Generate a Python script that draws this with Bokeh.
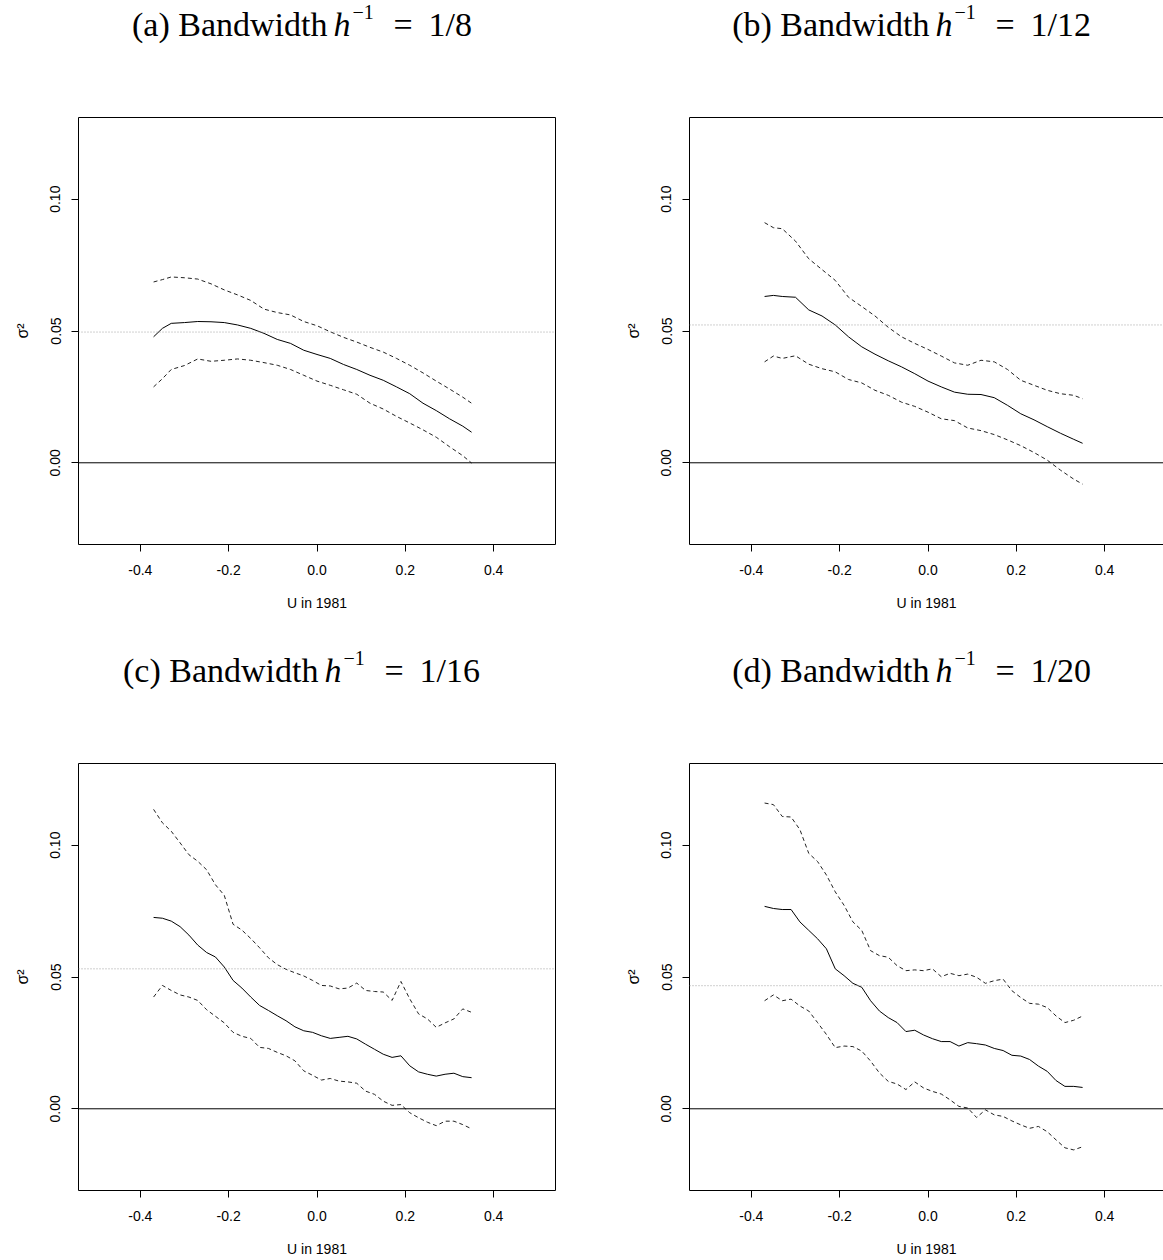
from bokeh.plotting import figure
from bokeh.models import Range1d, Span, LinearAxis, FixedTicker, NumeralTickFormatter
from bokeh.core.properties import value
from bokeh.layouts import column, row
from bokeh.embed import file_html
from bokeh.resources import INLINE

# ---------------- data ----------------
x_ab = [-0.37, -0.35, -0.33, -0.30, -0.27, -0.24, -0.21, -0.18, -0.15, -0.12, -0.09, -0.06, -0.03,
        0.00, 0.03, 0.06, 0.09, 0.12, 0.15, 0.18, 0.21, 0.24, 0.27, 0.30, 0.33, 0.35]

a_mid = [0.0478, 0.0510, 0.0529, 0.0532, 0.0536, 0.0535, 0.0532, 0.0523, 0.0510, 0.0491, 0.0468, 0.0453, 0.0427,
         0.0411, 0.0396, 0.0373, 0.0354, 0.0332, 0.0313, 0.0288, 0.0262, 0.0226, 0.0198, 0.0167, 0.0139, 0.0116]
a_up = [0.0686, 0.0695, 0.0705, 0.0702, 0.0697, 0.0679, 0.0656, 0.0637, 0.0616, 0.0583, 0.0570, 0.0561, 0.0536,
        0.0520, 0.0497, 0.0476, 0.0458, 0.0438, 0.0420, 0.0396, 0.0370, 0.0341, 0.0310, 0.0280, 0.0249, 0.0226]
a_lo = [0.0288, 0.0319, 0.0354, 0.0369, 0.0394, 0.0385, 0.0389, 0.0394, 0.0389, 0.0380, 0.0370, 0.0354, 0.0332,
        0.0310, 0.0294, 0.0277, 0.0260, 0.0226, 0.0204, 0.0176, 0.0151, 0.0125, 0.0097, 0.0061, 0.0027, -0.0001]

b_mid = [0.0631, 0.0635, 0.0631, 0.0628, 0.0580, 0.0557, 0.0523, 0.0478, 0.0440, 0.0412, 0.0387, 0.0364, 0.0338,
         0.0310, 0.0288, 0.0268, 0.0260, 0.0259, 0.0247, 0.0218, 0.0186, 0.0163, 0.0137, 0.0112, 0.0089, 0.0074]
b_up = [0.0911, 0.0892, 0.0888, 0.0841, 0.0774, 0.0733, 0.0692, 0.0628, 0.0593, 0.0557, 0.0514, 0.0478, 0.0453,
        0.0430, 0.0405, 0.0379, 0.0370, 0.0389, 0.0383, 0.0354, 0.0313, 0.0294, 0.0275, 0.0262, 0.0256, 0.0243]
b_lo = [0.0383, 0.0405, 0.0396, 0.0406, 0.0374, 0.0357, 0.0345, 0.0316, 0.0303, 0.0275, 0.0256, 0.0230, 0.0214,
        0.0192, 0.0167, 0.0160, 0.0132, 0.0122, 0.0107, 0.0087, 0.0065, 0.0039, 0.0010, -0.0028, -0.0062, -0.0081]

x_cd = [-0.37, -0.35, -0.33, -0.31, -0.29, -0.27, -0.25, -0.23, -0.21, -0.19, -0.17, -0.15, -0.13,
        -0.11, -0.09, -0.07, -0.05, -0.03, -0.01, 0.01, 0.03, 0.05, 0.07, 0.09, 0.11, 0.13,
        0.15, 0.17, 0.19, 0.21, 0.23, 0.25, 0.27, 0.29, 0.31, 0.33, 0.35]

c_up = [0.1136, 0.1085, 0.1053, 0.1009, 0.0964, 0.0939, 0.0907, 0.0850, 0.0810, 0.0700, 0.0678, 0.0646, 0.0611,
        0.0573, 0.0547, 0.0529, 0.0516, 0.0504, 0.0487, 0.0468, 0.0466, 0.0455, 0.0458, 0.0477, 0.0449, 0.0445,
        0.0443, 0.0411, 0.0483, 0.0417, 0.0360, 0.0341, 0.0309, 0.0326, 0.0341, 0.0379, 0.0366]
c_mid = [0.0726, 0.0723, 0.0712, 0.0691, 0.0659, 0.0621, 0.0593, 0.0576, 0.0538, 0.0487, 0.0458, 0.0424, 0.0392,
         0.0373, 0.0353, 0.0334, 0.0311, 0.0296, 0.0290, 0.0277, 0.0267, 0.0271, 0.0275, 0.0265, 0.0245, 0.0226,
         0.0207, 0.0195, 0.0201, 0.0163, 0.0140, 0.0131, 0.0124, 0.0131, 0.0135, 0.0122, 0.0118]
c_lo = [0.0424, 0.0468, 0.0449, 0.0432, 0.0424, 0.0411, 0.0376, 0.0351, 0.0326, 0.0290, 0.0275, 0.0267, 0.0233,
        0.0229, 0.0214, 0.0201, 0.0182, 0.0144, 0.0127, 0.0109, 0.0115, 0.0105, 0.0102, 0.0097, 0.0067, 0.0055,
        0.0029, 0.0013, 0.0016, -0.0015, -0.0034, -0.0051, -0.0064, -0.0047, -0.0047, -0.0060, -0.0076]

d_up = [0.1160, 0.1154, 0.1109, 0.1107, 0.1059, 0.0969, 0.0938, 0.0887, 0.0823, 0.0772, 0.0709, 0.0677, 0.0600,
        0.0581, 0.0575, 0.0543, 0.0524, 0.0527, 0.0524, 0.0531, 0.0501, 0.0514, 0.0505, 0.0511, 0.0499, 0.0476,
        0.0486, 0.0492, 0.0448, 0.0422, 0.0400, 0.0397, 0.0384, 0.0352, 0.0327, 0.0336, 0.0352]
d_mid = [0.0768, 0.0760, 0.0756, 0.0756, 0.0709, 0.0677, 0.0645, 0.0607, 0.0531, 0.0505, 0.0476, 0.0461, 0.0410,
         0.0371, 0.0346, 0.0327, 0.0293, 0.0298, 0.0280, 0.0266, 0.0255, 0.0255, 0.0238, 0.0251, 0.0247, 0.0242,
         0.0229, 0.0221, 0.0203, 0.0200, 0.0187, 0.0162, 0.0142, 0.0107, 0.0085, 0.0085, 0.0081]
d_lo = [0.0410, 0.0432, 0.0410, 0.0416, 0.0390, 0.0371, 0.0327, 0.0282, 0.0232, 0.0238, 0.0236, 0.0219, 0.0181,
        0.0136, 0.0104, 0.0094, 0.0073, 0.0102, 0.0079, 0.0066, 0.0056, 0.0034, 0.0009, 0.0003, -0.0033, -0.0004,
        -0.0023, -0.0029, -0.0046, -0.0061, -0.0074, -0.0067, -0.0087, -0.0118, -0.0148, -0.0156, -0.0144]

ref_levels = [0.0496, 0.0523, 0.0531, 0.0467]
letters = ["a", "b", "c", "d"]
bandwidths = ["1/8", "1/12", "1/16", "1/20"]
x_ticks = [-0.4, -0.2, 0.0, 0.2, 0.4]
y_ticks = [0.0, 0.05, 0.10]
x_label = "U in 1981"
y_label = "σ²"

SANS = "Liberation Sans"
SERIF = "Liberation Serif"
TITLE_H = 60
FRAME_H = 427
FRAME_W = 477
X0, X1 = -0.54, 0.54
Y0, Y1 = -0.031, 0.131


def title_fig(letter, bw, width):
    t = figure(width=width, height=TITLE_H, x_range=Range1d(0, width), y_range=Range1d(TITLE_H, 0),
               output_backend="svg", toolbar_location=None,
               x_axis_location=None, y_axis_location=None, min_border=0)
    t.grid.visible = False
    t.outline_line_color = None
    t.background_fill_color = "white"
    t.border_fill_color = "white"
    E = 327 if len(bw) == 3 else 318      # right edge of "(x) Bandwidth"
    base, sup = 24, 11
    f = dict(text_font=value(SERIF), text_color="black", text_baseline="alphabetic")
    t.text(x=[E], y=[base], text=[f"({letter}) Bandwidth"], text_align="right",
           text_font_size="34px", **f)
    t.text(x=[E + 6], y=[base], text=["h"], text_align="left", text_font_style="italic",
           text_font_size="34px", **f)
    t.text(x=[E + 25], y=[sup], text=["−1"], text_align="left", text_font_size="20px", **f)
    t.text(x=[E + 66], y=[base], text=["="], text_align="left", text_font_size="34px", **f)
    t.text(x=[E + 101], y=[base], text=[bw], text_align="left", text_font_size="34px", **f)
    return t


def panel(x, lo, mid, up, ref, width, height, right_col):
    frame_w = width - 78 if right_col else FRAME_W
    x_end = X0 + frame_w * (X1 - X0) / FRAME_W
    top_border = 117 - TITLE_H
    p = figure(width=width, height=height,
               x_range=Range1d(X0, x_end), y_range=Range1d(Y0, Y1),
               output_backend="svg", toolbar_location=None,
               min_border_left=78, min_border_right=width - 78 - frame_w,
               min_border_top=top_border, min_border_bottom=height - top_border - FRAME_H)
    p.xgrid.visible = False
    p.ygrid.visible = False
    p.background_fill_color = "white"
    p.border_fill_color = "white"

    for ax in (p.xaxis[0], p.yaxis[0]):
        ax.major_tick_out = 7
        ax.major_tick_in = 0
        ax.major_tick_line_color = "black"
        ax.minor_tick_line_color = None
        ax.major_label_text_font = SANS
        ax.major_label_text_font_size = "14px"
        ax.major_label_text_color = "black"
        ax.axis_label_text_font = SANS
        ax.axis_label_text_font_size = "14px"
        ax.axis_label_text_font_style = "normal"
        ax.axis_label_text_color = "black"
        ax.axis_line_color = "black" if right_col else None

    p.xaxis.ticker = FixedTicker(ticks=x_ticks)
    p.xaxis.formatter = NumeralTickFormatter(format="0.0")
    p.xaxis.axis_label = x_label
    p.xaxis.major_label_standoff = 13
    p.xaxis.axis_label_standoff = 17

    p.yaxis.ticker = FixedTicker(ticks=y_ticks)
    p.yaxis.formatter = NumeralTickFormatter(format="0.00")
    p.yaxis.major_label_orientation = "vertical"
    p.yaxis.axis_label = y_label
    p.yaxis.axis_label_text_font_size = "16px"
    p.yaxis.major_label_standoff = 11
    p.yaxis.axis_label_standoff = 17

    if right_col:
        p.outline_line_color = None
        top = LinearAxis(ticker=FixedTicker(ticks=[]), axis_line_color="black",
                         major_tick_line_color=None, minor_tick_line_color=None,
                         major_label_text_font_size="0px")
        p.add_layout(top, "above")
    else:
        p.outline_line_color = "black"
        p.outline_line_width = 1

    p.add_layout(Span(location=0, dimension="width", line_color="black", line_width=1))
    p.add_layout(Span(location=ref, dimension="width", line_color="#a0a0a0",
                      line_width=1, line_dash="1 2"))

    p.line(x, up, line_color="#222222", line_width=1, line_dash="4 3")
    p.line(x, lo, line_color="#222222", line_width=1, line_dash="4 3")
    p.line(x, mid, line_color="black", line_width=1)
    return p


ta = title_fig(letters[0], bandwidths[0], 611)
tb = title_fig(letters[1], bandwidths[1], 552)
tc = title_fig(letters[2], bandwidths[2], 611)
td = title_fig(letters[3], bandwidths[3], 552)

pa = panel(x_ab, a_lo, a_mid, a_up, ref_levels[0], 611, 646 - TITLE_H, False)
pb = panel(x_ab, b_lo, b_mid, b_up, ref_levels[1], 552, 646 - TITLE_H, True)
pc = panel(x_cd, c_lo, c_mid, c_up, ref_levels[2], 611, 614 - TITLE_H, False)
pd = panel(x_cd, d_lo, d_mid, d_up, ref_levels[3], 552, 614 - TITLE_H, True)

layout = column(row(ta, tb), row(pa, pb), row(tc, td), row(pc, pd))
open("out.html", "w").write(file_html(layout, INLINE))
